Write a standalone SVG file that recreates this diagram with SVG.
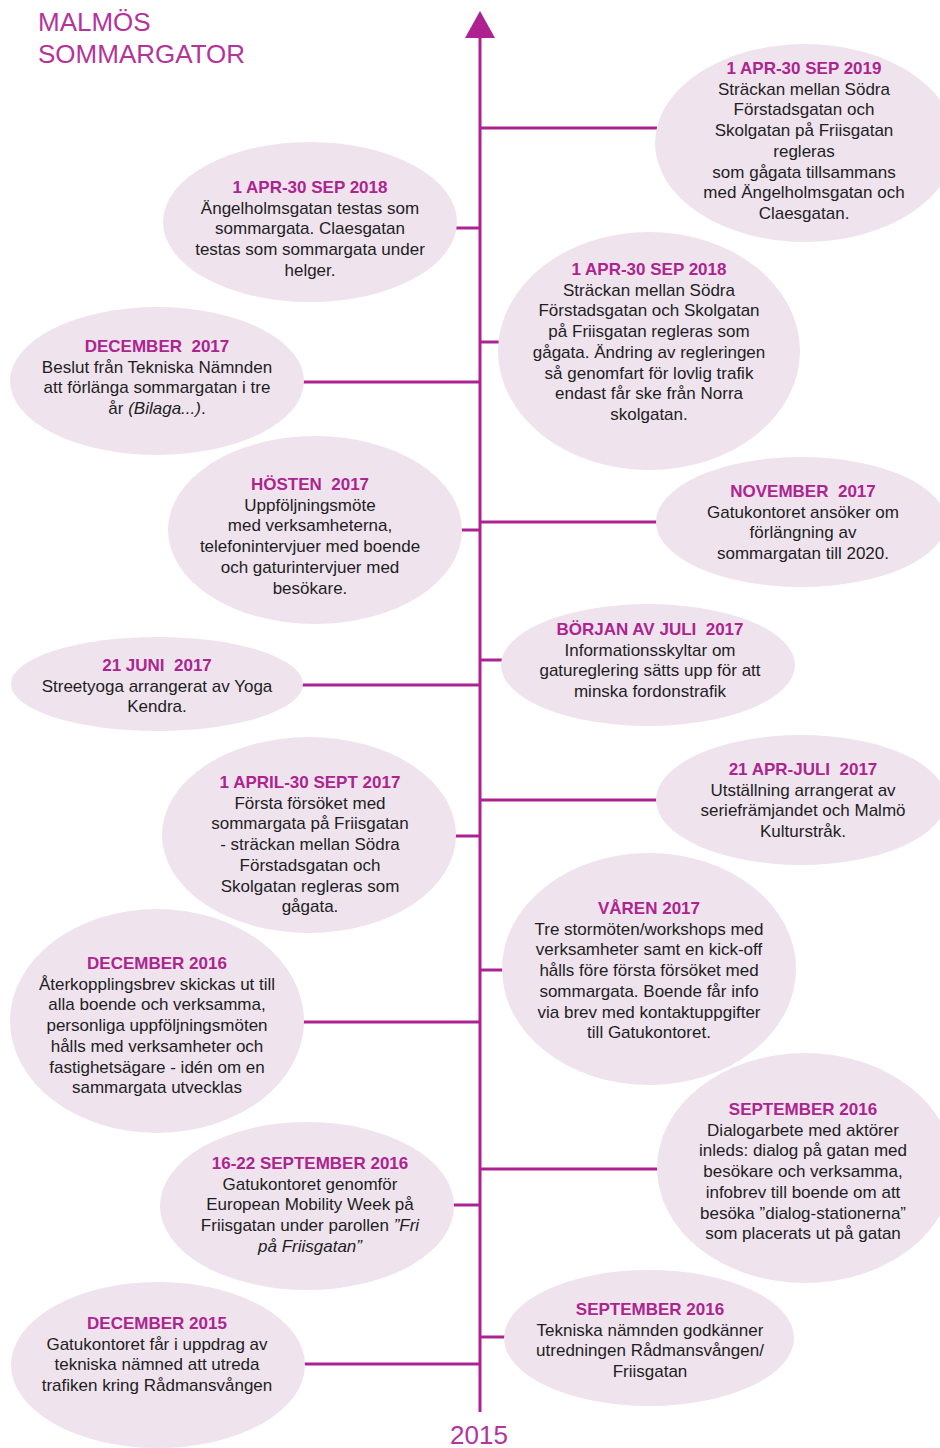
<svg xmlns="http://www.w3.org/2000/svg" width="940" height="1448" viewBox="0 0 940 1448">
<style>
.bg{fill:#ffffff}
.node ellipse{fill:#efe3ee;stroke:none}
.conn line{stroke:#ad2290;stroke-width:3}
.spine{stroke:#ad2290;stroke-width:3}
text{font-family:"Liberation Sans",Arial,sans-serif;font-size:17px;text-anchor:middle;fill:#1e1e1e}
.h{font-weight:bold;fill:#ac258e}
.title{font-size:26px;fill:#b5349a;text-anchor:start}
.year{font-size:26px;fill:#b5349a}
.i{font-style:italic}
</style>
<rect class="bg" x="0" y="0" width="940" height="1448"/>
<text class="title" x="38" y="31">MALMÖS</text>
<text class="title" x="38" y="63">SOMMARGATOR</text>
<g id="connectors" class="conn">
<line class="spine" x1="480" y1="34" x2="480" y2="1412"/>
<line x1="480" y1="128" x2="657" y2="128"/>
<line x1="456" y1="228" x2="480" y2="228"/>
<line x1="480" y1="342" x2="500" y2="342"/>
<line x1="302" y1="382" x2="480" y2="382"/>
<line x1="460" y1="530" x2="480" y2="530"/>
<line x1="480" y1="522" x2="657" y2="522"/>
<line x1="480" y1="660" x2="502" y2="660"/>
<line x1="302" y1="685" x2="480" y2="685"/>
<line x1="480" y1="800" x2="658" y2="800"/>
<line x1="454" y1="836" x2="480" y2="836"/>
<line x1="480" y1="970" x2="504" y2="970"/>
<line x1="302" y1="1022" x2="480" y2="1022"/>
<line x1="480" y1="1169" x2="660" y2="1169"/>
<line x1="452" y1="1205" x2="480" y2="1205"/>
<line x1="303" y1="1364" x2="480" y2="1364"/>
<line x1="480" y1="1337" x2="506" y2="1337"/>
<polygon points="480,11 495,38 465,38" fill="#ad2290"/>
</g>
<text class="year" x="479" y="1444">2015</text>

<g id="n2019" class="node">
<ellipse cx="805" cy="143" rx="150" ry="99"/>
<text x="804" y="74"><tspan class="h">1 APR-30 SEP 2019</tspan><tspan x="804" dy="20.7">Sträckan mellan Södra</tspan><tspan x="804" dy="20.7">Förstadsgatan och</tspan><tspan x="804" dy="20.7">Skolgatan på Friisgatan</tspan><tspan x="804" dy="20.7">regleras</tspan><tspan x="804" dy="20.7">som gågata tillsammans</tspan><tspan x="804" dy="20.7">med Ängelholmsgatan och</tspan><tspan x="804" dy="20.7">Claesgatan.</tspan></text>
</g>

<g id="n2018a" class="node">
<ellipse cx="310" cy="222" rx="147" ry="80"/>
<text x="310" y="193"><tspan class="h">1 APR-30 SEP 2018</tspan><tspan x="310" dy="20.7">Ängelholmsgatan testas som</tspan><tspan x="310" dy="20.7">sommargata. Claesgatan</tspan><tspan x="310" dy="20.7">testas som sommargata under</tspan><tspan x="310" dy="20.7">helger.</tspan></text>
</g>

<g id="n2018b" class="node">
<ellipse cx="649" cy="351" rx="151" ry="119"/>
<text x="649" y="275"><tspan class="h">1 APR-30 SEP 2018</tspan><tspan x="649" dy="20.7">Sträckan mellan Södra</tspan><tspan x="649" dy="20.7">Förstadsgatan och Skolgatan</tspan><tspan x="649" dy="20.7">på Friisgatan regleras som</tspan><tspan x="649" dy="20.7">gågata. Ändring av regleringen</tspan><tspan x="649" dy="20.7">så genomfart för lovlig trafik</tspan><tspan x="649" dy="20.7">endast får ske från Norra</tspan><tspan x="649" dy="20.7">skolgatan.</tspan></text>
</g>

<g id="ndec2017" class="node">
<ellipse cx="157" cy="381" rx="147" ry="74"/>
<text x="157" y="352"><tspan class="h" xml:space="preserve">DECEMBER  2017</tspan><tspan x="157" dy="20.7">Beslut från Tekniska Nämnden</tspan><tspan x="157" dy="20.7">att förlänga sommargatan i tre</tspan><tspan x="157" dy="20.7">år <tspan class="i">(Bilaga...)</tspan>.</tspan></text>
</g>

<g id="nhosten2017" class="node">
<ellipse cx="315" cy="530" rx="147" ry="94"/>
<text x="310" y="490"><tspan class="h" xml:space="preserve">HÖSTEN  2017</tspan><tspan x="310" dy="20.7">Uppföljningsmöte</tspan><tspan x="310" dy="20.7">med verksamheterna,</tspan><tspan x="310" dy="20.7">telefonintervjuer med boende</tspan><tspan x="310" dy="20.7">och gaturintervjuer med</tspan><tspan x="310" dy="20.7">besökare.</tspan></text>
</g>

<g id="nnov2017" class="node">
<ellipse cx="801" cy="522" rx="145" ry="65"/>
<text x="803" y="497"><tspan class="h" xml:space="preserve">NOVEMBER  2017</tspan><tspan x="803" dy="20.7">Gatukontoret ansöker om</tspan><tspan x="803" dy="20.7">förlängning av</tspan><tspan x="803" dy="20.7">sommargatan till 2020.</tspan></text>
</g>

<g id="njuli2017" class="node">
<ellipse cx="648" cy="665" rx="147" ry="61"/>
<text x="650" y="635"><tspan class="h" xml:space="preserve">BÖRJAN AV JULI  2017</tspan><tspan x="650" dy="20.7">Informationsskyltar om</tspan><tspan x="650" dy="20.7">gatureglering sätts upp för att</tspan><tspan x="650" dy="20.7">minska fordonstrafik</tspan></text>
</g>

<g id="njuni2017" class="node">
<ellipse cx="157" cy="684" rx="146" ry="47"/>
<text x="157" y="671"><tspan class="h" xml:space="preserve">21 JUNI  2017</tspan><tspan x="157" dy="20.7">Streetyoga arrangerat av Yoga</tspan><tspan x="157" dy="20.7">Kendra.</tspan></text>
</g>

<g id="napr2017" class="node">
<ellipse cx="801" cy="800" rx="145" ry="65"/>
<text x="803" y="775"><tspan class="h" xml:space="preserve">21 APR-JULI  2017</tspan><tspan x="803" dy="20.7">Utställning arrangerat av</tspan><tspan x="803" dy="20.7">seriefrämjandet och Malmö</tspan><tspan x="803" dy="20.7">Kulturstråk.</tspan></text>
</g>

<g id="napril2017" class="node">
<ellipse cx="309" cy="835" rx="147" ry="98"/>
<text x="310" y="788"><tspan class="h">1 APRIL-30 SEPT 2017</tspan><tspan x="310" dy="20.7">Första försöket med</tspan><tspan x="310" dy="20.7">sommargata på Friisgatan</tspan><tspan x="310" dy="20.7">- sträckan mellan Södra</tspan><tspan x="310" dy="20.7">Förstadsgatan och</tspan><tspan x="310" dy="20.7">Skolgatan regleras som</tspan><tspan x="310" dy="20.7">gågata.</tspan></text>
</g>

<g id="nvaren2017" class="node">
<ellipse cx="649" cy="969" rx="147" ry="116"/>
<text x="649" y="914"><tspan class="h">VÅREN 2017</tspan><tspan x="649" dy="20.7">Tre stormöten/workshops med</tspan><tspan x="649" dy="20.7">verksamheter samt en kick-off</tspan><tspan x="649" dy="20.7">hålls före första försöket med</tspan><tspan x="649" dy="20.7">sommargata. Boende får info</tspan><tspan x="649" dy="20.7">via brev med kontaktuppgifter</tspan><tspan x="649" dy="20.7">till Gatukontoret.</tspan></text>
</g>

<g id="ndec2016" class="node">
<ellipse cx="157" cy="1021" rx="147" ry="112"/>
<text x="157" y="969"><tspan class="h">DECEMBER 2016</tspan><tspan x="157" dy="20.7">Återkopplingsbrev skickas ut till</tspan><tspan x="157" dy="20.7">alla boende och verksamma,</tspan><tspan x="157" dy="20.7">personliga uppföljningsmöten</tspan><tspan x="157" dy="20.7">hålls med verksamheter och</tspan><tspan x="157" dy="20.7">fastighetsägare - idén om en</tspan><tspan x="157" dy="20.7">sammargata utvecklas</tspan></text>
</g>

<g id="nsep2016a" class="node">
<ellipse cx="805" cy="1168" rx="148" ry="115"/>
<text x="803" y="1115"><tspan class="h">SEPTEMBER 2016</tspan><tspan x="803" dy="20.7">Dialogarbete med aktörer</tspan><tspan x="803" dy="20.7">inleds: dialog på gatan med</tspan><tspan x="803" dy="20.7">besökare och verksamma,</tspan><tspan x="803" dy="20.7">infobrev till boende om att</tspan><tspan x="803" dy="20.7">besöka ”dialog-stationerna”</tspan><tspan x="803" dy="20.7">som placerats ut på gatan</tspan></text>
</g>

<g id="nsep2016b" class="node">
<ellipse cx="307" cy="1206" rx="147" ry="84"/>
<text x="310" y="1169"><tspan class="h">16-22 SEPTEMBER 2016</tspan><tspan x="310" dy="20.7">Gatukontoret genomför</tspan><tspan x="310" dy="20.7">European Mobility Week på</tspan><tspan x="310" dy="20.7">Friisgatan under parollen <tspan class="i">”Fri</tspan></tspan><tspan x="310" dy="20.7" class="i">på Friisgatan”</tspan></text>
</g>

<g id="ndec2015" class="node">
<ellipse cx="158" cy="1365" rx="147" ry="83"/>
<text x="157" y="1329"><tspan class="h">DECEMBER 2015</tspan><tspan x="157" dy="20.7">Gatukontoret får i uppdrag av</tspan><tspan x="157" dy="20.7">tekniska nämned att utreda</tspan><tspan x="157" dy="20.7">trafiken kring Rådmansvången</tspan></text>
</g>

<g id="nsep2016c" class="node">
<ellipse cx="649" cy="1338" rx="145" ry="68"/>
<text x="650" y="1315"><tspan class="h">SEPTEMBER 2016</tspan><tspan x="650" dy="20.7">Tekniska nämnden godkänner</tspan><tspan x="650" dy="20.7">utredningen Rådmansvången/</tspan><tspan x="650" dy="20.7">Friisgatan</tspan></text>
</g>
</svg>
